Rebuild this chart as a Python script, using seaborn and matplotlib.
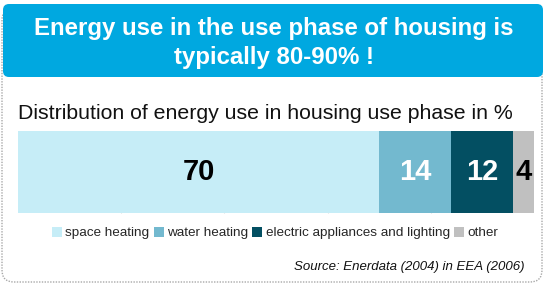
import seaborn as sns
import matplotlib.pyplot as plt
import pandas as pd
import numpy as np
from matplotlib.patches import FancyBboxPatch, Patch

# data
categories = ["space heating", "water heating", "electric appliances and lighting", "other"]
values = [70, 14, 12, 4]
colors = ["#C6EDF7", "#73B9CF", "#034F62", "#C0C0C0"]
label_colors = ["black", "white", "white", "black"]

sns.set_style("white")
plt.rcParams["font.family"] = ["Liberation Sans", "DejaVu Sans"]

df = pd.DataFrame({"category": categories, "value": values})
df["end"] = df["value"].cumsum()
df["start"] = df["end"] - df["value"]
df["row"] = "housing"

fig = plt.figure(figsize=(5.45, 2.84), dpi=100)

# background layer in pixel coords
bg = fig.add_axes([0, 0, 1, 1])
bg.set_xlim(0, 545)
bg.set_ylim(284, 0)
bg.axis("off")

bg.add_patch(FancyBboxPatch((2, 8), 540, 274, boxstyle="round,pad=0,rounding_size=12",
                            fill=False, ec="#a8a8a8", lw=1.0, ls=(0, (1, 1))))
bg.add_patch(FancyBboxPatch((3, 4), 540, 73, boxstyle="round,pad=0,rounding_size=6",
                            fc="#00A8E0", ec="none"))
bg.text(274, 35, "Energy use in the use phase of housing is", ha="center", va="baseline",
        fontsize=17.3, fontweight="bold", color="white")
bg.text(274, 64, "typically 80-90% !", ha="center", va="baseline",
        fontsize=17.3, fontweight="bold", color="white")
bg.text(18, 119, "Distribution of energy use in housing use phase in %", ha="left",
        va="baseline", fontsize=15.3, color="#111111")
bg.text(525, 267, "Source: Enerdata (2004) in EEA (2006)", ha="right", va="center",
        fontsize=9.5, style="italic", color="#111111")

# stacked bar
ax = fig.add_axes([18 / 545, (284 - 213) / 284, 516 / 545, 82 / 284])
for i in reversed(range(len(df))):
    sns.barplot(data=df.iloc[[i]], x="end", y="row", color=colors[i], saturation=1,
                width=1.0, ax=ax, orient="h", linewidth=0, edgecolor="none")
for _, r in df.iterrows():
    i = categories.index(r["category"])
    ax.text((r["start"] + r["end"]) / 2, 0, str(r["value"]), ha="center", va="center",
            fontsize=21, fontweight="bold", color=label_colors[i])

ax.set_xlim(0, 100)
ax.set_ylim(0.5, -0.5)
ax.set_xticks([20, 40, 60, 80])
ax.set_xticklabels([])
ax.set_yticks([])
ax.tick_params(axis="x", direction="in", length=2, color="#dddddd", bottom=True)
ax.set_xlabel("")
ax.set_ylabel("")
for s in ax.spines.values():
    s.set_visible(False)
ax.patch.set_alpha(0)

handles = [Patch(fc=c, ec="none") for c in colors]
fig.legend(handles, categories, loc="center", bbox_to_anchor=(275 / 545, 1 - 233 / 284),
           ncol=4, frameon=False, fontsize=9.7, handlelength=0.75, handleheight=0.75,
           handletextpad=0.25, columnspacing=0.3, borderaxespad=0)

fig.savefig("out.png", dpi=100)
